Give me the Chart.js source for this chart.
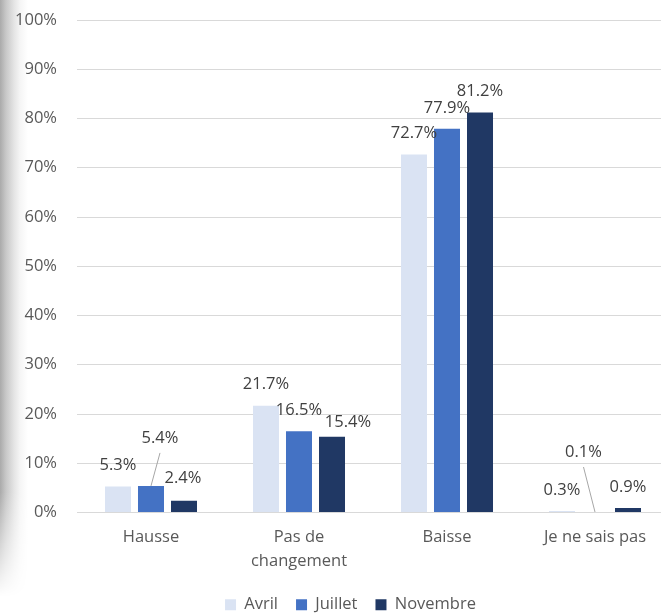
<!DOCTYPE html>
<html><head><meta charset="utf-8">
<script src="https://cdn.jsdelivr.net/npm/chart.js@4"></script>
<style>
html,body{margin:0;padding:0;background:#fff;overflow:hidden;width:661px;height:615px;}
#shade{position:absolute;left:0;top:0;width:30px;height:615px;
 background:linear-gradient(to right,#aaaaaa 0,#c8c8c8 6px,#e4e4e4 14px,#f5f5f5 20px,#fff 28px);
 -webkit-mask-image:linear-gradient(to bottom,#000 0,#000 80%,transparent 97%);
 mask-image:linear-gradient(to bottom,#000 0,#000 80%,transparent 97%);}
#wrap{position:absolute;left:0;top:0;width:661px;height:615px;overflow:hidden;}
canvas{display:block;}
</style></head>
<body><div id="shade"></div><div id="wrap"><canvas id="c" width="702" height="615"></canvas></div>
<script>
const categories = [['Hausse'], ['Pas de', 'changement'], ['Baisse'], ['Je ne sais pas']];
const seriesNames = ['Avril', 'Juillet', 'Novembre'];
const avril = [5.3, 21.7, 72.7, 0.3];
const juillet = [5.4, 16.5, 77.9, 0.1];
const novembre = [2.4, 15.4, 81.2, 0.9];
const yTicks = [0, 10, 20, 30, 40, 50, 60, 70, 80, 90, 100];

const FONT = '"Open Sans", sans-serif';
const colors = ['#DAE3F3', '#4472C4', '#203864'];

const labelPlugin = {
  id: 'barLabels',
  afterDatasetsDraw(chart, args, opts) {
    const ctx = chart.ctx;
    ctx.save();
    ctx.font = opts.size + 'px ' + FONT;
    ctx.textAlign = 'center';
    ctx.textBaseline = 'middle';
    chart.data.datasets.forEach((ds, di) => {
      const meta = chart.getDatasetMeta(di);
      meta.data.forEach((bar, i) => {
        const o = opts.offsets[di + '-' + i] || {};
        const dx = o.dx || 0, dy = (o.dy !== undefined ? o.dy : opts.dy);
        const lx = bar.x + dx, ly = bar.y + dy;
        if (o.leader) {
          ctx.strokeStyle = '#a6a6a6';
          ctx.lineWidth = 1;
          ctx.beginPath();
          ctx.moveTo(lx, ly + 15);
          ctx.lineTo(bar.x, bar.y);
          ctx.stroke();
        }
        ctx.fillStyle = '#404040';
        ctx.fillText(ds.data[i].toFixed(1) + '%', lx, ly);
      });
    });
    ctx.restore();
  }
};

const legendShift = {
  id: 'legendShift',
  afterLayout(chart, args, opts) {
    if (chart.legend) { chart.legend.left += opts.dx; chart.legend.right += opts.dx; }
  }
};

new Chart(document.getElementById('c'), {
  type: 'bar',
  data: {
    labels: categories,
    datasets: [
      { label: seriesNames[0], data: avril, backgroundColor: colors[0] },
      { label: seriesNames[1], data: juillet, backgroundColor: colors[1] },
      { label: seriesNames[2], data: novembre, backgroundColor: colors[2] }
    ]
  },
  options: {
    responsive: false,
    animation: false,
    events: [],
    categoryPercentage: 0.669,
    barPercentage: 0.788,
    layout: { padding: { top: 20, right: 33, bottom: -8, left: 0 } },
    scales: {
      x: {
        grid: { display: false },
        border: { display: false },
        ticks: { color: '#595959', font: { family: FONT, size: 16.5, lineHeight: 1.45 }, padding: 5, maxRotation: 0, autoSkip: false },
        afterFit(s) { s.height = 66; }
      },
      y: {
        min: 0, max: 100,
        afterBuildTicks(s) { s.ticks = yTicks.map(v => ({ value: v })); },
        grid: { color: '#d9d9d9', drawTicks: false, lineWidth: 1 },
        border: { display: false },
        ticks: { color: '#595959', font: { family: FONT, size: 16.5 }, padding: 20, callback: v => v + '%' },
        afterFit(s) { s.width = 77; s.paddingTop = 0; s.paddingBottom = 0; }
      }
    },
    plugins: {
      tooltip: { enabled: false },
      legendShift: { dx: 16 },
      legend: {
        position: 'bottom',
        labels: { color: '#595959', font: { family: FONT, size: 16.5 }, boxWidth: 11, boxHeight: 11, padding: 18 }
      },
      barLabels: {
        size: 16.5,
        dy: -21,
        offsets: {
          '1-0': { dx: 9, dy: -48, leader: true },
          '2-0': { dx: -1, dy: -22 },
          '2-1': { dx: 16, dy: -14 },
          '1-3': { dx: -11.5, dy: -60, leader: true }
        }
      }
    }
  },
  plugins: [labelPlugin, legendShift]
});
</script>
</body></html>
